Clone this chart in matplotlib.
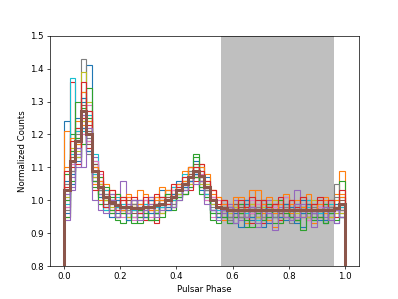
import numpy as np
import matplotlib
matplotlib.use("Agg")
import matplotlib.pyplot as plt

n_bins = 50  # phase bins between 0 and 1

s01 = [1.24,1.15,1.22,1.30,1.41,1.12,1.06,0.98,1.02,0.95, 1.01,0.94,0.97,1.00,0.95,1.01,0.96,1.03,0.98,1.04, 1.06,1.02,1.10,1.12,1.05,1.07,0.97,0.95,0.99,0.94, 0.93,0.97,1.00,0.94,0.98,0.92,0.99,0.95,0.97,1.01, 0.94,0.98,0.92,1.00,0.96,0.94,0.99,0.96,0.93,1.01]
s02 = [1.21,1.09,1.17,1.25,1.18,1.05,1.00,1.05,0.98,1.02, 0.96,1.01,0.99,1.03,0.95,0.94,1.01,1.04,0.97,1.02, 1.01,1.09,1.05,1.07,1.11,1.08,1.03,1.01,0.94,0.99, 0.96,1.01,0.93,0.99,1.03,0.96,0.94,0.92,1.00,0.96, 0.99,0.94,1.01,0.97,0.93,0.96,1.00,0.99,1.02,1.09]
s03 = [1.08,1.20,1.13,1.22,1.25,1.11,1.02,0.97,1.01,0.94, 0.93,0.97,0.95,0.93,0.99,0.96,0.94,0.98,1.03,0.98, 1.00,1.03,1.09,1.14,1.04,1.00,0.96,0.93,0.97,0.95, 0.99,0.95,0.92,0.97,0.95,0.99,0.97,0.93,0.96,0.99, 0.97,0.94,0.98,0.95,0.99,0.95,0.93,0.97,0.99,1.06]
s04 = [0.98,1.36,1.21,1.26,1.16,1.07,1.05,1.03,0.96,0.98, 1.00,0.95,0.99,0.97,0.94,1.00,0.93,1.00,0.97,1.03, 1.05,1.02,1.10,1.06,1.11,1.04,1.01,0.98,1.00,0.96, 0.95,0.99,0.97,0.93,1.00,0.95,0.97,0.99,0.94,0.96, 1.00,0.97,0.95,0.99,0.96,1.00,0.94,0.98,0.96,0.97]
s05 = [1.00,1.04,1.10,1.31,1.22,1.13,1.01,0.99,1.02,0.97, 1.06,0.96,1.00,0.98,0.96,1.01,0.98,0.96,1.02,0.99, 1.03,1.07,1.04,1.09,1.06,1.03,0.97,1.00,0.96,0.99, 0.97,0.94,0.99,0.96,0.92,0.97,1.00,0.96,0.98,0.95, 0.97,1.03,0.98,0.94,0.97,0.99,0.97,0.95,0.93,0.96]
s06 = [1.02,1.09,1.19,1.24,1.17,1.11,1.05,0.99,0.97,1.00, 0.98,1.00,0.96,0.95,1.00,0.98,0.96,1.01,1.00,1.03, 1.02,1.05,1.07,1.11,1.07,1.06,1.01,0.96,0.98,0.97, 0.99,0.96,0.95,0.98,0.97,0.94,0.98,0.97,0.95,0.99, 0.95,0.99,0.97,0.96,0.95,0.98,0.97,1.00,0.98,1.00]
s07 = [1.05,1.14,1.16,1.20,1.29,1.10,1.07,1.02,0.99,0.96, 0.95,0.99,0.94,0.97,1.00,0.95,1.00,0.98,1.01,0.98, 1.05,1.06,1.06,1.08,1.04,1.00,0.95,1.00,0.95,0.96, 0.98,0.95,0.97,1.00,0.95,0.97,0.93,0.99,0.97,1.01, 0.97,0.95,0.99,0.94,0.98,0.97,0.99,0.95,0.97,0.95]
s08 = [0.97,1.11,1.21,1.43,1.19,1.06,1.03,1.01,1.00,0.98, 0.97,0.98,1.00,0.95,0.98,0.97,0.99,0.99,0.98,1.01, 1.02,1.04,1.09,1.07,1.06,1.02,0.99,0.98,0.97,0.94, 0.96,0.99,0.97,0.95,0.98,1.00,0.95,0.97,0.95,0.97, 0.93,0.97,0.98,0.97,0.95,0.97,0.96,0.98,1.05,0.98]
s09 = [1.03,1.13,1.15,1.39,1.24,1.09,1.02,1.00,0.97,0.99, 0.98,0.96,0.98,1.00,0.97,0.98,1.01,0.99,1.02,1.00, 1.03,1.06,1.08,1.09,1.08,1.03,1.00,0.95,0.98,0.96, 0.97,0.98,0.95,0.97,0.99,0.95,0.97,1.00,0.97,0.95, 0.98,0.97,0.95,0.97,1.00,0.95,0.97,0.98,0.96,0.99]
s10 = [1.01,1.37,1.13,1.27,1.21,1.14,1.04,0.97,0.99,1.01, 0.98,0.95,0.97,0.99,0.97,1.00,0.96,0.98,0.99,1.04, 1.01,1.08,1.06,1.10,1.07,1.05,0.99,0.98,0.95,0.98, 0.97,0.95,0.99,0.97,0.94,0.97,0.98,0.95,0.99,0.97, 0.96,0.99,0.96,1.00,0.95,0.97,0.98,0.96,0.95,0.98]
s11 = [1.06,1.08,1.25,1.31,1.18,1.07,1.03,1.01,1.00,0.96, 0.98,0.99,0.95,0.97,0.98,0.96,0.99,1.01,0.98,1.01, 1.04,1.03,1.07,1.08,1.09,1.03,0.97,0.96,0.97,0.95, 0.96,0.97,1.00,0.95,0.97,0.98,0.96,0.95,0.97,0.99, 0.95,0.97,1.00,0.97,0.96,0.98,0.94,0.97,0.99,0.96]
s12 = [0.95,1.12,1.17,1.23,1.20,1.08,1.06,1.03,0.97,0.98, 0.96,1.01,0.98,0.96,0.95,0.98,1.00,0.96,1.03,1.00, 1.03,1.05,1.10,1.07,1.06,1.05,1.02,1.01,0.96,0.95, 0.98,0.96,0.97,0.99,0.95,0.96,0.94,0.97,0.93,0.97, 0.99,0.95,0.97,0.95,0.99,0.97,0.96,0.95,0.97,1.01]
s13 = [1.00,1.15,1.19,1.28,1.15,1.04,1.07,1.00,0.96,1.02, 0.97,0.97,0.99,0.95,0.98,0.94,0.97,1.00,1.01,0.97, 1.02,1.05,1.06,1.13,1.04,1.02,0.96,0.95,0.98,0.97, 0.95,0.99,0.97,0.96,0.95,0.97,0.99,0.97,1.00,0.95, 0.97,0.94,0.97,0.99,0.95,0.96,0.99,0.97,1.00,0.95]
s14 = [1.04,1.10,1.22,1.25,1.23,1.10,1.03,1.02,0.99,0.95, 1.00,0.96,0.97,0.99,0.96,0.97,0.98,0.97,0.99,1.02, 1.03,1.04,1.08,1.09,1.06,1.04,1.00,0.97,0.95,0.98, 0.97,0.95,0.97,0.98,0.97,0.93,0.97,0.99,0.96,0.97, 0.95,0.97,0.98,0.95,0.97,0.95,0.98,0.97,0.95,0.97]
s15 = [1.02,1.07,1.14,1.26,1.27,1.09,1.02,0.98,1.00,0.99, 0.97,0.99,0.97,1.00,0.98,1.00,0.96,0.98,1.00,1.02, 1.02,1.06,1.07,1.08,1.07,1.02,0.99,0.98,0.96,0.97, 1.00,0.96,0.95,0.97,0.97,0.99,0.95,0.97,0.96,0.98, 0.97,0.95,0.99,0.98,0.96,0.97,0.95,0.98,0.97,0.97]
s16 = [1.03,1.13,1.18,1.29,1.21,1.08,1.04,1.00,0.99,0.98, 0.97,0.98,0.98,0.97,0.98,0.98,0.99,0.99,1.01,1.00, 1.03,1.05,1.08,1.09,1.07,1.04,1.00,0.98,0.97,0.97, 0.97,0.98,0.97,0.96,0.97,0.97,0.97,0.98,0.96,0.97, 0.97,0.98,0.96,0.97,0.97,0.97,0.98,0.97,0.97,0.98]
s17 = [0.98,1.11,1.16,1.22,1.18,1.12,1.08,1.01,0.95,1.00, 0.99,0.97,0.95,0.98,1.00,0.97,0.98,1.00,0.97,1.03, 1.04,1.05,1.06,1.07,1.08,1.03,1.01,0.96,0.99,0.98, 0.95,0.97,0.98,0.96,0.99,0.97,0.95,0.98,0.99,0.95, 0.98,0.97,0.95,0.97,0.99,0.98,0.97,0.95,0.98,0.97]
s18 = [1.05,1.09,1.20,1.33,1.14,1.06,1.03,1.02,1.00,0.97, 0.98,0.97,0.99,0.96,0.97,0.98,0.97,1.00,0.99,0.99, 1.05,1.04,1.07,1.08,1.06,1.03,0.98,0.97,0.98,0.95, 0.98,0.95,0.98,0.97,0.96,0.95,0.98,0.95,0.97,0.98, 0.96,0.98,0.97,0.95,0.98,0.96,0.97,0.98,1.01,0.97]
s19 = [1.01,1.16,1.13,1.24,1.30,1.07,1.05,1.00,0.98,0.99, 0.97,0.95,0.98,0.98,0.97,0.99,0.97,0.96,1.00,1.01, 1.02,1.06,1.05,1.10,1.05,1.05,0.99,0.98,0.97,0.97, 0.98,0.96,0.97,0.99,0.95,0.98,0.97,0.96,0.95,0.97, 0.98,0.96,0.98,0.95,0.97,0.97,0.98,0.95,0.97,0.96]
s20 = [0.99,1.14,1.21,1.21,1.26,1.08,1.04,1.03,1.00,0.98, 0.99,0.98,0.97,0.97,0.99,0.98,0.98,0.98,0.99,1.00, 1.03,1.05,1.07,1.08,1.10,1.02,1.00,0.97,0.97,0.98, 0.97,0.97,0.96,0.98,0.97,0.97,0.98,0.96,0.97,0.97, 0.96,0.97,0.97,0.98,0.97,0.96,0.97,0.99,0.97,0.98]
s21 = [0.96,1.05,1.12,1.22,1.15,1.06,1.01,0.98,0.95,1.00, 0.97,0.94,1.00,0.96,0.95,1.00,0.96,0.99,0.97,1.02, 1.01,1.04,1.06,1.08,1.03,1.01,0.97,0.95,0.98,0.93, 0.97,0.92,0.99,0.95,0.96,1.00,0.93,0.97,0.95,0.94, 0.98,0.93,0.96,0.99,0.94,0.97,0.93,0.96,0.98,0.95]
s22 = [1.10,1.19,1.24,1.33,1.24,1.10,1.06,1.01,1.03,0.99, 0.97,1.02,0.98,0.99,1.02,0.97,1.01,1.00,1.03,1.01, 1.05,1.06,1.10,1.09,1.10,1.04,1.03,0.98,0.99,0.97, 1.01,0.96,0.98,1.03,0.96,0.99,1.01,0.96,0.99,1.02, 0.96,1.00,0.98,1.02,0.97,0.99,1.01,0.97,1.00,1.02]
s23 = [0.95,1.06,1.30,1.17,1.34,1.06,0.99,1.04,0.97,0.95, 0.96,0.98,0.93,0.97,0.96,0.94,0.96,0.95,1.02,0.98, 1.01,1.02,1.04,1.07,1.02,1.01,0.94,0.96,0.95,0.93, 0.95,0.96,0.94,0.92,0.96,0.94,0.95,0.97,0.93,0.96, 0.95,0.94,0.91,0.96,0.94,0.95,0.93,0.96,0.94,0.95]
s24 = [1.09,1.18,1.11,1.36,1.27,1.03,1.09,0.98,1.03,0.97, 1.01,0.98,1.01,0.96,1.01,0.99,1.02,1.01,0.99,1.05, 1.04,1.07,1.03,1.10,1.09,1.06,1.03,0.99,1.00,0.98, 0.97,1.00,0.98,1.01,0.97,1.00,0.98,0.99,1.01,0.97, 1.00,0.98,1.01,0.97,0.99,1.01,0.97,1.00,0.98,1.03]
s25 = [0.94,1.03,1.16,1.10,1.22,1.00,0.97,0.96,1.00,0.95, 0.98,0.96,1.00,0.94,0.97,0.99,0.95,0.97,1.00,0.98, 1.00,1.03,1.07,1.05,1.06,0.99,0.97,0.94,0.97,0.98, 0.93,0.97,0.95,0.98,0.93,0.97,0.96,0.91,0.97,0.95, 0.94,0.99,0.95,0.97,0.92,0.97,0.98,0.94,0.97,0.95]

mean_profile = [1.03,1.12,1.18,1.27,1.20,1.09,1.04,1.01,0.995,0.985, 0.98,0.98,0.975,0.975,0.98,0.98,0.985,0.99,1.00,1.01, 1.03,1.05,1.07,1.09,1.075,1.04,1.00,0.98,0.975,0.97, 0.97,0.97,0.97,0.97,0.97,0.97,0.97,0.97,0.97,0.97, 0.97,0.97,0.97,0.97,0.97,0.97,0.97,0.97,0.975,0.99]

series = [s01, s02, s03, s04, s05, s06, s07, s08, s09, s10,
          s11, s12, s13, s14, s15, s16, s17, s18, s19, s20,
          s21, s22, s23, s24, s25]

off_pulse = (0.56, 0.96)

fig, ax = plt.subplots(figsize=(6.4, 4.8), dpi=62.34)
ax.axvspan(off_pulse[0], off_pulse[1], color='gray', alpha=0.5, lw=0)
edges = np.linspace(0, 1, n_bins + 1)
centers = 0.5 * (edges[:-1] + edges[1:])
for i, s in enumerate(series):
    ax.hist(centers, bins=edges, weights=s, histtype='step', color=f'C{i % 10}', lw=1.3)
ax.hist(centers, bins=edges, weights=mean_profile, histtype='step', color='C5', lw=3.5)
ax.set_ylim(0.8, 1.5)
ax.set_xlabel('Pulsar Phase')
ax.set_ylabel('Normalized Counts')
fig.savefig('out.png', dpi=62.34)
